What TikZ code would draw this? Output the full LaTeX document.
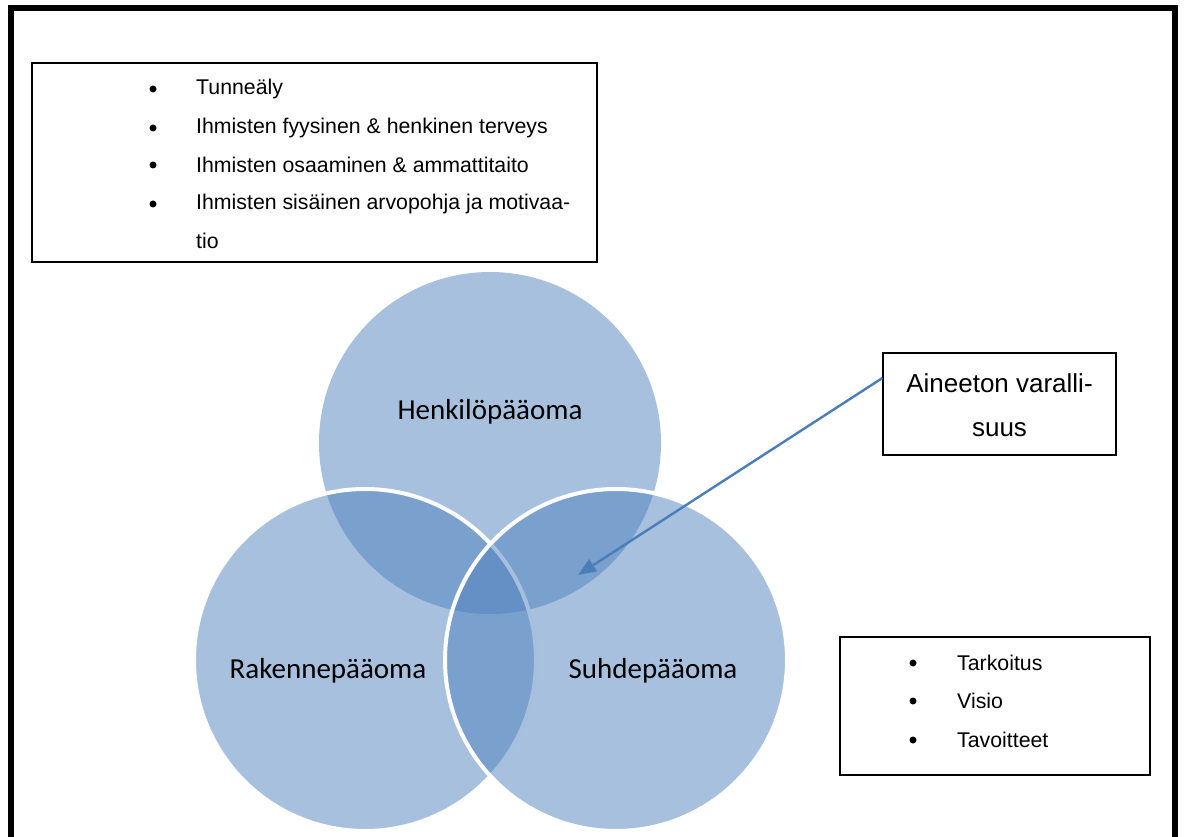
\documentclass[tikz,border=0pt]{standalone}
\usepackage{fontspec}
\setmainfont{Liberation Sans}
\newfontfamily\calib{Carlito}
\usetikzlibrary{arrows.meta}
\definecolor{venn}{HTML}{4F81BD}
\definecolor{arrowblue}{HTML}{4A7EBB}
\tikzset{
  vcircle/.style={circle, minimum size=342pt, inner sep=0pt, fill=venn, fill opacity=0.5},
  vedge/.style={draw=white, line width=4pt, draw opacity=1},
  vlabel/.style={font=\calib\fontsize{29}{34}\selectfont, text=black},
  frame/.style={draw=black, line width=1.2pt},
  bul/.style={circle, fill=black, minimum size=7pt, inner sep=0pt},
  btext/.style={anchor=west, inner sep=0pt, font=\fontsize{21.3}{25}\selectfont},
}
\begin{document}
\begin{tikzpicture}[x=1pt,y=-1pt]
\useasboundingbox (0,0) rectangle (1184,837);
\clip (0,0) rectangle (1184,837);
% outer frame
\draw[line width=5.5pt] (11,8) rectangle (1175,900);
% venn circles
\node[vcircle] (top) at (490,443) {};
\node[vcircle, vedge] (left) at (365,660) {};
\node[vcircle, vedge] (right) at (616,660) {};
\node[vlabel] (ltop) at (490,412) {Henkilöpääoma};
\node[vlabel] (lleft) at (328,671) {Rakennepääoma};
\node[vlabel] (lright) at (653,671) {Suhdepääoma};
% top-left box
\node[frame, minimum width=565pt, minimum height=199pt, inner sep=0pt] (tbox) at (314.5,162.5) {};
\node[bul] (tb1) at (153,89) {};
\node[btext] (tt1) at (196,89) {Tunneäly};
\node[bul] (tb2) at (153,128) {};
\node[btext] (tt2) at (196,128) {Ihmisten fyysinen \& henkinen terveys};
\node[bul] (tb3) at (153,165) {};
\node[btext] (tt3) at (196,165) {Ihmisten osaaminen \& ammattitaito};
\node[bul] (tb4) at (153,204) {};
\node[btext] (tt4) at (196,204) {Ihmisten sisäinen arvopohja ja motivaa-};
\node[btext] (tt5) at (196,241) {tio};
% right box
\node[frame, minimum width=233pt, minimum height=102pt, inner sep=0pt] (abox) at (999.5,404) {};
\node[font=\fontsize{26}{44}\selectfont, align=center, inner sep=0pt] (atext) at (999.5,405) {Aineeton varalli-\\suus};
\coordinate (tip) at (578,575);
\draw[arrowblue, line width=2.4pt, -{Triangle[length=18pt,width=14pt]}] (abox.west |- 0,378) -- (tip);
% bottom right box
\node[frame, minimum width=310pt, minimum height=138pt, inner sep=0pt] (bbox) at (995,706) {};
\node[bul] (bb1) at (913,663) {};
\node[btext] (bt1) at (957,663) {Tarkoitus};
\node[bul] (bb2) at (913,701) {};
\node[btext] (bt2) at (957,701) {Visio};
\node[bul] (bb3) at (913,740) {};
\node[btext] (bt3) at (957,740) {Tavoitteet};
\end{tikzpicture}
\end{document}
